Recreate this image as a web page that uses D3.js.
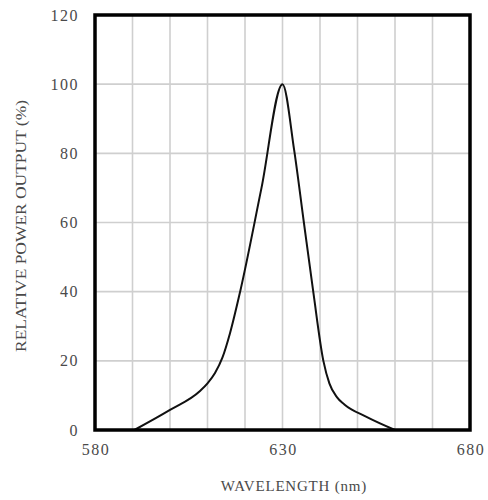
<!DOCTYPE html>
<html>
<head>
<meta charset="utf-8">
<script src="https://cdn.jsdelivr.net/npm/d3@7"></script>
<style>
  html, body { margin: 0; padding: 0; background: #fff; }
  svg { display: block; }
  text { font-family: "Liberation Serif", "DejaVu Serif", serif; fill: #4a4a4a; }
</style>
</head>
<body>
<svg id="chart" width="488" height="500"></svg>
<script>
// Data
const wavelength = [590.5, 600, 608, 610, 612, 614, 616, 618.7, 624.4, 630,
                    633.1, 635.7, 638.2, 640.9, 642.5, 644.5, 646.5, 652.4, 660];
const power = [0, 5.8, 11.3, 13.5, 16.5, 21, 28, 40, 70, 100,
               81, 60, 40, 20, 13.5, 9.5, 7.4, 3.8, 0];
const xTicks = [580, 630, 680];
const xGrid = [590, 600, 610, 620, 630, 640, 650, 660, 670];
const yTicks = [0, 20, 40, 60, 80, 100, 120];
const xTitle = "WAVELENGTH (nm)";
const yTitle = "RELATIVE POWER OUTPUT (%)";

const svg = d3.select("#chart");
const m = { left: 95, right: 470, top: 15, bottom: 430 };
const x = d3.scaleLinear().domain([580, 680]).range([m.left, m.right]);
const y = d3.scaleLinear().domain([0, 120]).range([m.bottom, m.top]);

// grid
svg.append("g").selectAll("line").data(xGrid).join("line")
  .attr("x1", d => x(d)).attr("x2", d => x(d))
  .attr("y1", m.top).attr("y2", m.bottom)
  .attr("stroke", "#cfcfcf").attr("stroke-width", 1.6);
svg.append("g").selectAll("line").data(yTicks.slice(1, -1)).join("line")
  .attr("x1", m.left).attr("x2", m.right)
  .attr("y1", d => y(d)).attr("y2", d => y(d))
  .attr("stroke", "#cfcfcf").attr("stroke-width", 1.6);

// curve
const pts = wavelength.map((w, i) => [w, power[i]]);
svg.append("path")
  .datum(pts)
  .attr("fill", "none")
  .attr("stroke", "#111")
  .attr("stroke-width", 2)
  .attr("d", d3.line().x(d => x(d[0])).y(d => y(d[1])).curve(d3.curveMonotoneX));

// frame
svg.append("rect")
  .attr("x", m.left).attr("y", m.top)
  .attr("width", m.right - m.left).attr("height", m.bottom - m.top)
  .attr("fill", "none").attr("stroke", "#000").attr("stroke-width", 3.5);

// y tick labels
svg.append("g").selectAll("text").data(yTicks).join("text")
  .attr("x", 79).attr("y", d => y(d))
  .attr("dy", "0.35em")
  .attr("text-anchor", "end")
  .attr("font-size", 16)
  .attr("letter-spacing", 1.5)
  .text(d => d);

// x tick labels
svg.append("g").selectAll("text").data(xTicks).join("text")
  .attr("x", d => x(d) + 1).attr("y", 455)
  .attr("text-anchor", "middle")
  .attr("font-size", 16)
  .attr("letter-spacing", 1.5)
  .text(d => d);

// axis titles
svg.append("text")
  .attr("x", 294).attr("y", 491)
  .attr("text-anchor", "middle")
  .attr("font-size", 15)
  .attr("letter-spacing", 0.8)
  .text(xTitle);

svg.append("text")
  .attr("transform", "translate(26,226) rotate(-90)")
  .attr("text-anchor", "middle")
  .attr("font-size", 15)
  .attr("textLength", 252)
  .attr("lengthAdjust", "spacingAndGlyphs")
  .text(yTitle);
</script>
</body>
</html>
